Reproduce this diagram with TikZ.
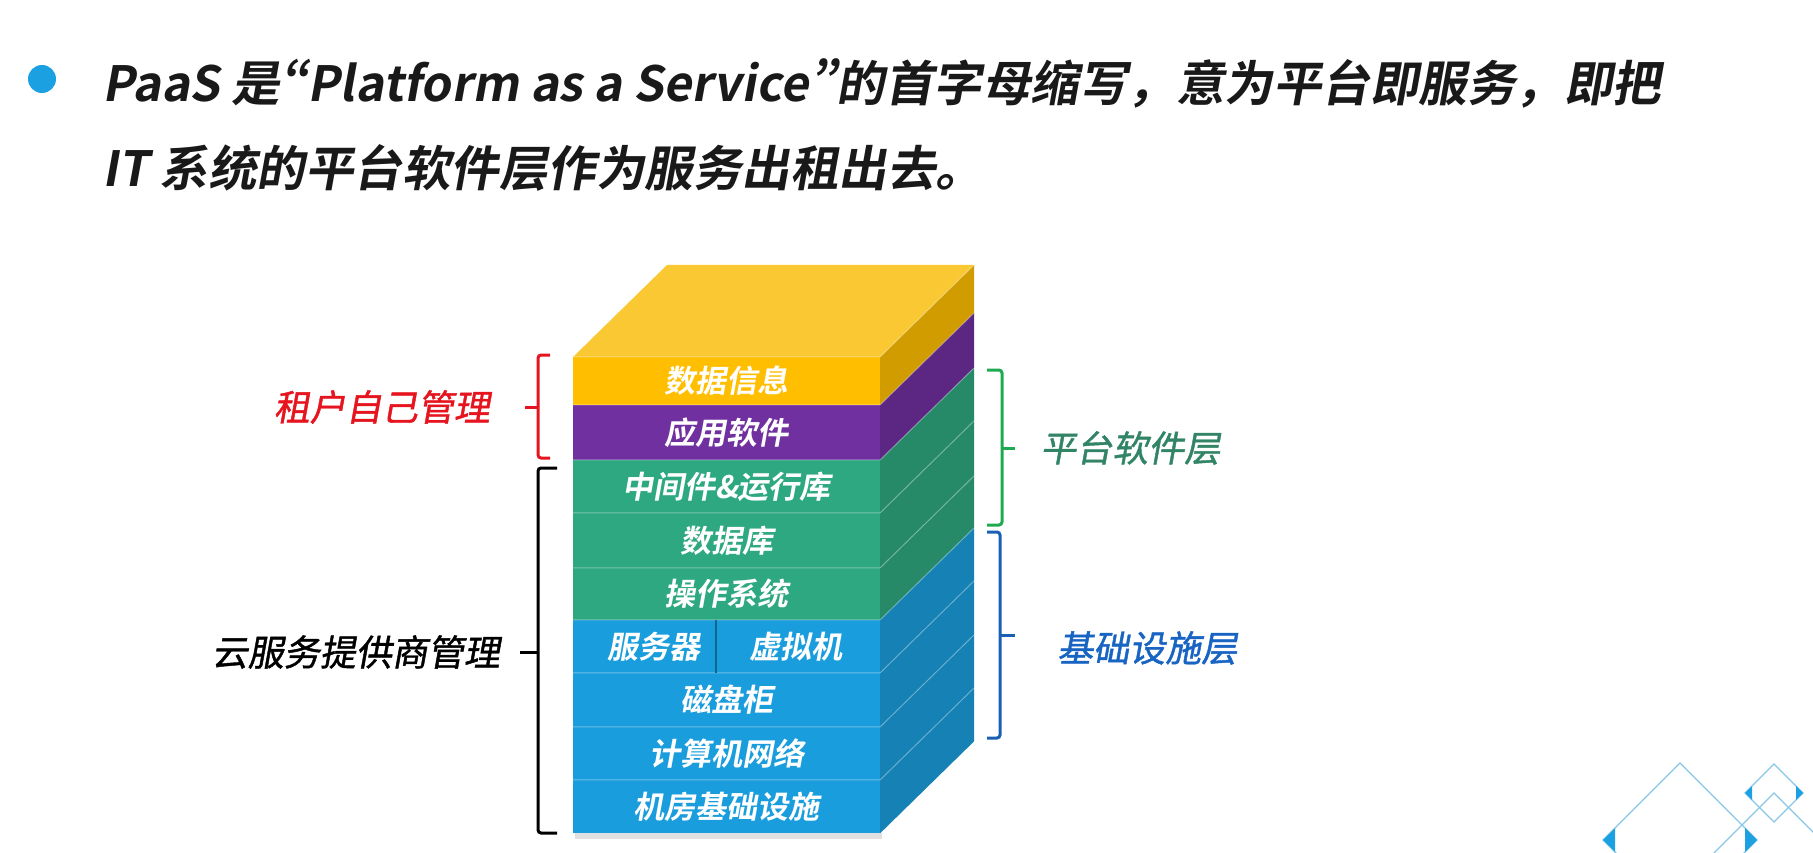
\documentclass[tikz,border=0pt]{standalone}
\usepackage{fontspec}
\usepackage{xcolor}
\usepackage{tikz}
\usetikzlibrary{positioning}
\usetikzlibrary{calc}
\newfontfamily\cjk{Noto Sans CJK SC}[FakeSlant=0.18,BoldFont={Noto Sans CJK SC Bold}]
\newfontfamily\cjkmed{Noto Sans CJK SC}[FakeSlant=0.18,FakeBold=1.2]
\newcommand{\nq}[1]{{\addfontfeature{RawFeature=+pwid}#1}}
\definecolor{yel}{RGB}{255,190,0}
\definecolor{yeltop}{RGB}{250,200,50}
\definecolor{pur}{RGB}{112,48,160}
\definecolor{grn}{RGB}{46,168,128}
\definecolor{blu}{RGB}{26,157,220}
\definecolor{tenant}{RGB}{230,20,30}
\definecolor{plat}{RGB}{50,132,102}
\definecolor{infra}{RGB}{24,100,195}
\definecolor{platbr}{RGB}{30,170,80}
\definecolor{infrabr}{RGB}{25,95,180}
\definecolor{deco}{RGB}{135,200,232}
\definecolor{dot}{RGB}{27,161,226}
\tikzset{layer/.style={rectangle,minimum width=307pt,inner sep=0pt,text=white,font=\cjk\bfseries\fontsize{31}{31}\selectfont},
  lbl/.style={inner sep=0pt,font=\cjkmed\fontsize{36}{36}\selectfont},
  heading/.style={anchor=base west,inner sep=0pt,text=black!90,font=\cjk\bfseries\fontsize{48.5}{48.5}\selectfont},
  brace/.style={line width=3pt,rounded corners=3pt}}

\begin{document}
\begin{tikzpicture}[x=1pt,y=-1pt]
  \useasboundingbox (0,0) rectangle (1813,853);

	% heading
	\node[circle,fill=dot,inner sep=0pt,minimum size=28pt] (dot) at (42,79) {};
	\node[heading] (line1) at (102,102) {PaaS 是\nq{“}Platform as a Service\nq{”}的首字母缩写，意为平台即服务，即把};
	\node[heading] (line2) at (102,187) {IT 系统的平台软件层作为服务出租出去。};

	% top of the stack
	\fill[black!12] (575,833) rectangle (882,839);
	\fill[yeltop] (573,357) -- ++(94,-92) -- ++(307,0) -- (880,357) -- cycle;

	\foreach \top/\bot/\col/\txt/\name in {357/405/yel/数据信息/info, 405/460/pur/应用软件/app,
	  460/513/grn/中间件\&运行库/mid, 513/568/grn/数据库/db, 568/620/grn/操作系统/os,
	  620/673/blu//srv, 673/727/blu/磁盘柜/disk, 727/780/blu/计算机网络/net, 780/833/blu/机房基础设施/room} {
		\node[layer,fill=\col,minimum height={(\bot-\top)*1pt}] (\name) at (726.5,{(\top+\bot)/2}) {\txt};
		\fill[\col!82!black] (\name.north east) -- ++(94,-92) -- ($(\name.south east)+(94,-92)$) -- (\name.south east) -- cycle;
		\draw[white,opacity=0.35,line width=1pt] (\name.north west) -- (\name.north east) -- ++(94,-92);
	}

	\draw[blu!65!black,line width=1.5pt] ($(srv.north west)+(143,0)$) -- ($(srv.south west)+(143,0)$);
	\node[layer,minimum width=0pt] (server) at (654,646.5) {服务器};
	\node[layer,minimum width=0pt] (vm) at (796,646.5) {虚拟机};

	% braces
	\draw[brace,tenant] (550,355) -- (538,355) -- (538,458) -- (550,458);
	\draw[brace,tenant] (538,407) -- (525,407) coordinate (tenantend);
	\node[lbl,text=tenant,left=35pt of tenantend] (tenantlbl) {租户自己管理};

	\draw[brace,black] (557,468) -- (538,468) -- (538,833) -- (557,833);
	\draw[brace,black] (538,652) -- (520,652) coordinate (cloudend);
	\node[lbl,text=black,left=20pt of cloudend] (cloudlbl) {云服务提供商管理};

	\draw[brace,platbr] (987,370) -- (1002,370) -- (1002,525) -- (987,525);
	\draw[brace,platbr] (1002,448) -- (1015,448) coordinate (platend);
	\node[lbl,text=plat,right=25pt of platend] (platlbl) {平台软件层};

	\draw[brace,infrabr] (987,532) -- (1000,532) -- (1000,738) -- (987,738);
	\draw[brace,infrabr] (1000,635) -- (1015,635) coordinate (infraend);
	\node[lbl,text=infra,anchor=west] (infralbl) at (1057,648) {基础设施层};

	% corner ornament
	\begin{scope}
		\clip (1500,700) rectangle (1813,853);
		\draw[deco,line width=1.3pt] (1680,763) -- (1757,840) -- (1680,917) -- (1603,840) -- cycle;
		\draw[deco,line width=1.3pt] (1774,764) -- (1803,793) -- (1774,822) -- (1745,793) -- cycle;
		\draw[deco,line width=1.3pt] (1774,793) -- (1851,870) -- (1774,947) -- (1697,870) -- cycle;
		\fill[dot] (1603,840) -- (1615,828) -- (1615,852) -- cycle;
		\fill[dot] (1757,840) -- (1745,828) -- (1745,852) -- cycle;
		\fill[dot] (1745,793) -- (1752,786) -- (1752,800) -- cycle;
		\fill[dot] (1803,793) -- (1796,786) -- (1796,800) -- cycle;
	\end{scope}
\end{tikzpicture}
\end{document}
